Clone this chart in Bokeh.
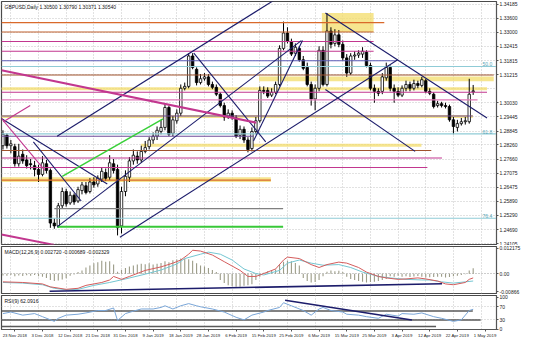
from bokeh.plotting import figure
from bokeh.layouts import column
from bokeh.models import (FixedTicker, Label, Range1d, ColumnDataSource,
                          NumeralTickFormatter, CustomJSTickFormatter)
from bokeh.embed import file_html
from bokeh.resources import INLINE
from bokeh.core.properties import value

# ---------------- data ----------------
bar_open = [1.2823, 1.2867, 1.2823, 1.2819, 1.2747, 1.2787, 1.2763, 1.2747, 1.2739, 1.2723,
            1.2702, 1.2747, 1.2719, 1.2497, 1.2485, 1.2570, 1.2630, 1.2582, 1.2614, 1.2590,
            1.2634, 1.2654, 1.2630, 1.2670, 1.2662, 1.2682, 1.2710, 1.2690, 1.2747, 1.2723,
            1.2485, 1.2630, 1.2690, 1.2759, 1.2779, 1.2763, 1.2799, 1.2819, 1.2847, 1.2863,
            1.2883, 1.2900, 1.2984, 1.2875, 1.2928, 1.2960, 1.3065, 1.3073, 1.3201, 1.3145,
            1.3089, 1.3105, 1.3113, 1.3081, 1.3069, 1.3040, 1.2992, 1.2948, 1.2960, 1.2940,
            1.2867, 1.2892, 1.2847, 1.2811, 1.2883, 1.2928, 1.3056, 1.3056, 1.3036, 1.3048,
            1.3081, 1.3233, 1.3298, 1.3262, 1.3213, 1.3233, 1.3185, 1.3153, 1.3081, 1.3020,
            1.3065, 1.3225, 1.3081, 1.3306, 1.3254, 1.3290, 1.3250, 1.3193, 1.3129, 1.3201,
            1.3205, 1.3209, 1.3217, 1.3161, 1.3065, 1.3052, 1.3052, 1.3109, 1.3153, 1.3065,
            1.3052, 1.3036, 1.3065, 1.3081, 1.3065, 1.3085, 1.3077, 1.3097, 1.3052, 1.3040,
            1.2992, 1.3000, 1.2992, 1.2988, 1.2932, 1.2900, 1.2916, 1.2924, 1.2924, 1.3050]
bar_high = [1.2888, 1.2875, 1.2847, 1.2831, 1.2831, 1.2807, 1.2783, 1.2767, 1.2759, 1.2743,
            1.2779, 1.2763, 1.2727, 1.2517, 1.2582, 1.2646, 1.2642, 1.2630, 1.2622, 1.2650,
            1.2670, 1.2670, 1.2686, 1.2690, 1.2698, 1.2731, 1.2727, 1.2783, 1.2767, 1.2743,
            1.2650, 1.2719, 1.2775, 1.2807, 1.2799, 1.2823, 1.2843, 1.2859, 1.2879, 1.2904,
            1.2932, 1.3000, 1.2992, 1.2948, 1.2976, 1.3081, 1.3089, 1.3213, 1.3213, 1.3153,
            1.3125, 1.3129, 1.3125, 1.3093, 1.3081, 1.3048, 1.3004, 1.2976, 1.2972, 1.2952,
            1.2908, 1.2904, 1.2859, 1.2900, 1.2944, 1.3073, 1.3073, 1.3069, 1.3065, 1.3093,
            1.3246, 1.3346, 1.3322, 1.3274, 1.3254, 1.3242, 1.3201, 1.3173, 1.3093, 1.3081,
            1.3242, 1.3242, 1.3382, 1.3322, 1.3314, 1.3310, 1.3266, 1.3209, 1.3213, 1.3221,
            1.3225, 1.3238, 1.3225, 1.3173, 1.3081, 1.3065, 1.3129, 1.3173, 1.3161, 1.3081,
            1.3069, 1.3077, 1.3097, 1.3093, 1.3101, 1.3097, 1.3113, 1.3105, 1.3065, 1.3048,
            1.3012, 1.3008, 1.3004, 1.2996, 1.2944, 1.2932, 1.2940, 1.2944, 1.3105, 1.3079]
bar_low = [1.2807, 1.2811, 1.2791, 1.2735, 1.2735, 1.2747, 1.2727, 1.2723, 1.2694, 1.2670,
           1.2694, 1.2706, 1.2477, 1.2473, 1.2477, 1.2558, 1.2566, 1.2574, 1.2574, 1.2582,
           1.2618, 1.2618, 1.2622, 1.2646, 1.2650, 1.2670, 1.2674, 1.2678, 1.2706, 1.2445,
           1.2453, 1.2610, 1.2670, 1.2743, 1.2747, 1.2751, 1.2791, 1.2807, 1.2831, 1.2847,
           1.2871, 1.2888, 1.2863, 1.2863, 1.2916, 1.2948, 1.3056, 1.3065, 1.3145, 1.3077,
           1.3081, 1.3097, 1.3073, 1.3061, 1.3032, 1.2984, 1.2928, 1.2936, 1.2932, 1.2855,
           1.2851, 1.2835, 1.2795, 1.2799, 1.2871, 1.2920, 1.3040, 1.3024, 1.3028, 1.3040,
           1.3073, 1.3225, 1.3254, 1.3201, 1.3201, 1.3177, 1.3141, 1.3073, 1.2992, 1.2972,
           1.3052, 1.3073, 1.3073, 1.3233, 1.3242, 1.3238, 1.3181, 1.3113, 1.3121, 1.3185,
           1.3193, 1.3193, 1.3153, 1.3056, 1.3004, 1.3032, 1.3040, 1.3097, 1.3052, 1.3004,
           1.3028, 1.3028, 1.3052, 1.3052, 1.3056, 1.3065, 1.3069, 1.3044, 1.3036, 1.2980,
           1.2984, 1.2984, 1.2980, 1.2924, 1.2871, 1.2883, 1.2908, 1.2912, 1.2916, 1.30371]
bar_close = [1.2871, 1.2823, 1.2831, 1.2747, 1.2779, 1.2759, 1.2739, 1.2743, 1.2723, 1.2702,
             1.2751, 1.2719, 1.2497, 1.2485, 1.2570, 1.2630, 1.2578, 1.2614, 1.2586, 1.2638,
             1.2658, 1.2626, 1.2670, 1.2658, 1.2686, 1.2715, 1.2686, 1.2751, 1.2719, 1.2477,
             1.2630, 1.2694, 1.2759, 1.2783, 1.2763, 1.2799, 1.2815, 1.2847, 1.2863, 1.2888,
             1.2900, 1.2984, 1.2871, 1.2932, 1.2960, 1.3065, 1.3073, 1.3201, 1.3153, 1.3089,
             1.3105, 1.3113, 1.3081, 1.3069, 1.3040, 1.2992, 1.2944, 1.2960, 1.2944, 1.2863,
             1.2892, 1.2847, 1.2807, 1.2883, 1.2928, 1.3056, 1.3052, 1.3032, 1.3048, 1.3081,
             1.3233, 1.3298, 1.3262, 1.3209, 1.3238, 1.3185, 1.3149, 1.3081, 1.3020, 1.3065,
             1.3225, 1.3081, 1.3306, 1.3250, 1.3290, 1.3250, 1.3193, 1.3129, 1.3201, 1.3205,
             1.3213, 1.3221, 1.3161, 1.3065, 1.3052, 1.3044, 1.3113, 1.3153, 1.3065, 1.3052,
             1.3036, 1.3065, 1.3081, 1.3065, 1.3085, 1.3077, 1.3101, 1.3052, 1.3044, 1.2988,
             1.3000, 1.2992, 1.2988, 1.2932, 1.2904, 1.2916, 1.2924, 1.2928, 1.3040, 1.3054]

title_text = "GBPUSD,Daily  1.30500 1.30790 1.30371 1.30540"
last_price = 1.30540
last_price_text = "1.30540"
price_ticks = [1.34185, 1.33600, 1.33000, 1.32415, 1.31815, 1.31215, 1.30030, 1.29445,
               1.28845, 1.28260, 1.27660, 1.27075, 1.26475, 1.25890, 1.25290, 1.24690, 1.24105]

date_labels = ["23 Nov 2018", "3 Dec 2018", "12 Dec 2018", "21 Dec 2018", "31 Dec 2018",
               "9 Jan 2019", "18 Jan 2019", "28 Jan 2019", "6 Feb 2019", "15 Feb 2019",
               "25 Feb 2019", "6 Mar 2019", "15 Mar 2019", "25 Mar 2019", "3 Apr 2019",
               "12 Apr 2019", "22 Apr 2019", "1 May 2019"]
date_bars = [2, 9, 16, 23, 30, 37, 44, 51, 58, 65, 72, 79, 86, 93, 100, 107, 114, 121]

# horizontal levels drawn on the chart
level_price = [1.3342, 1.3302, 1.3262, 1.3221, 1.3181, 1.3121, 1.3048, 1.3016, 1.2948,
               1.2863, 1.2803, 1.2771, 1.2731, 1.2678, 1.2558, 1.2481]
level_from = [-0.4, -0.4, -0.4, -0.4, -0.4, -0.4, -0.4, -0.4, -0.4,
              -0.4, -0.4, -0.4, -0.4, -0.4, 13.0, 13.7]
level_to = [96.5, 93.8, 93.8, 93.8, 99.4, 124.2, 122.5, 120.1, 118.9,
            63.4, 108.4, 111.1, 107.4, 67.8, 70.9, 70.9]
level_kind = ["orange", "brown", "magenta", "magenta", "slate", "sienna", "magenta", "pink",
              "purple", "purple", "sienna", "magenta", "magenta", "orange", "grey", "green"]

fib_levels = [1.3157, 1.2873, 1.2517]
fib_names = ["50.0", "61.8", "76.4"]

band_bottom = [1.3302, 1.3095, 1.3057, 1.2940, 1.2819, 1.2670]
band_top = [1.3382, 1.3115, 1.3069, 1.2952, 1.2831, 1.2690]
band_from = [80.7, 64.8, -0.4, -0.4, 34.9, -0.4]
band_to = [93.8, 124.2, 122.5, 118.9, 105.9, 67.8]

trend_x0 = [13.7, 13.7, 29.6, 63.4, 48.3, 81.6, 81.6, -0.4, 7.7]
trend_y0 = [1.2863, 1.2481, 1.2437, 1.2843, 1.3213, 1.3382, 1.3060, 1.2938, 1.2839]
trend_x1 = [68.5, 75.5, 99.9, 75.8, 66.5, 122.5, 104.3, 26.4, 19.8]
trend_y1 = [1.3435, 1.3266, 1.3185, 1.3266, 1.2839, 1.2940, 1.2799, 1.2662, 1.2590]

magenta_x0 = [-0.4, -0.4, 0.1, -0.4]
magenta_y0 = [1.3141, 1.2938, 1.2924, 1.2449]
magenta_x1 = [64.1, 10.6, 6.9, 13.0]
magenta_y1 = [1.2920, 1.2719, 1.2992, 1.2405]

green_x0 = [15.0]
green_y0 = [1.2694]
green_x1 = [40.5]
green_y1 = [1.2936]

macd_title = "MACD(12,26,9) 0.002720 -0.000689 -0.002329"
macd_ticks = [0.012175, 0.0, -0.00866]
macd_hist = [-0.0008, -0.0010, -0.0006, -0.0012, -0.0009, -0.0011, -0.0007, -0.0010, -0.0006, -0.0012,
             -0.0015, -0.0020, -0.0030, -0.0035, -0.0033, -0.0028, -0.0022, -0.0010, -0.0004, 0.0008,
             0.0015, 0.0030, 0.0040, 0.0050, 0.0055, 0.0062, 0.0058, 0.0060, 0.0045, 0.0010,
             0.0018, 0.0028, 0.0035, 0.0040, 0.0045, 0.0048, 0.0046, 0.0050, 0.0044, 0.0048,
             0.0052, 0.0060, 0.0055, 0.0065, 0.0068, 0.0073, 0.0072, 0.0070, 0.0062, 0.0050,
             0.0040, 0.0035, 0.0028, 0.0018, 0.0008, -0.0030, -0.0045, -0.0055, -0.0060, -0.0063,
             -0.0062, -0.0058, -0.0055, -0.0050, -0.0030, -0.0015, 0.0005, 0.0012, 0.0018, 0.0020,
             0.0045, 0.0058, 0.0062, 0.0060, 0.0052, 0.0040, -0.0020, -0.0035, -0.0042, -0.0040,
             -0.0030, -0.0012, 0.0010, 0.0015, 0.0012, 0.0014, 0.0008, -0.0015, -0.0025, -0.0030,
             -0.0035, -0.0038, -0.0042, -0.0040, -0.0038, -0.0035, -0.0030, -0.0025, -0.0012, -0.0015,
             -0.0010, -0.0014, -0.0012, -0.0016, -0.0013, -0.0011, -0.0015, -0.0018, -0.0017, -0.0016,
             -0.0014, -0.0015, -0.0018, -0.0016, -0.0012, -0.0010, -0.0006, -0.0002, 0.0015, 0.0027]
macd_main_x = [0, 5, 10, 12, 16, 19, 21, 25, 27, 28, 30, 32, 36, 40, 43, 45, 47, 48, 50, 53, 56, 60,
               62, 64, 66, 69, 71, 72, 75, 78, 80, 82, 85, 87, 90, 92, 95, 97, 100, 102, 105, 107,
               110, 112, 114, 117, 118, 119]
macd_main = [-0.0039, -0.0042, -0.0049, -0.0063, -0.0075, -0.0070, -0.0056, -0.0042, -0.0030, -0.0013,
             -0.0027, -0.0013, 0.0016, 0.0033, 0.0051, 0.0066, 0.0094, 0.0113, 0.0109, 0.0090,
             0.0058, 0.0016, -0.0013, -0.0013, 0.0001, 0.0023, 0.0066, 0.0080, 0.0073, 0.0044,
             0.0030, 0.0044, 0.0056, 0.0051, 0.0030, 0.0008, -0.0013, -0.0020, -0.0027, -0.0025,
             -0.0020, -0.0025, -0.0035, -0.0049, -0.0053, -0.0042, -0.0027, -0.0020]
macd_signal_x = [0, 5, 10, 13, 16, 19, 23, 27, 31, 36, 40, 44, 46, 50, 52, 55, 58, 61, 64, 66,
                 70, 72, 75, 78, 81, 85, 88, 91, 95, 98, 102, 106, 108, 111, 114, 117, 119]
macd_signal = [-0.0042, -0.0045, -0.0053, -0.0070, -0.0077, -0.0075, -0.0056, -0.0042, -0.0025, -0.0002,
               0.0018, 0.0047, 0.0073, 0.0094, 0.0104, 0.0094, 0.0066, 0.0023, 0.0001, -0.0006,
               0.0016, 0.0051, 0.0066, 0.0051, 0.0041, 0.0044, 0.0030, 0.0008, -0.0013, -0.0020,
               -0.0027, -0.0030, -0.0030, -0.0039, -0.0045, -0.0039, -0.0035]
macd_trend_x = [11.8, 111.1]
macd_trend_y = [-0.00845, -0.00478]

rsi_title = "RSI(9) 62.0916"
rsi_ticks = [100, 70, 30, 0]
rsi_x = [0, 2, 5, 8, 10, 13, 14, 16, 19, 21, 24, 26, 28, 29, 31, 33, 35, 38, 40, 41, 43, 45, 47, 49,
         50, 53, 56, 59, 61, 63, 66, 67, 70, 71, 73, 76, 78, 80, 81, 83, 86, 87, 90, 92, 95, 97,
         100, 101, 104, 106, 109, 111, 114, 116, 118, 119]
rsi_v = [48.6, 53.4, 43.8, 48.6, 39.0, 24.3, 33.9, 43.8, 46.6, 50.6, 58.2, 58.2, 66.1, 27.1, 48.6,
         56.2, 63.0, 63.0, 67.8, 72.9, 63.0, 72.9, 79.7, 72.9, 69.8, 63.0, 53.4, 37.0, 29.1, 43.8,
         53.4, 58.2, 67.8, 82.5, 72.9, 58.2, 43.8, 63.0, 67.8, 58.2, 53.4, 46.6, 43.8, 39.0, 33.9,
         46.6, 40.7, 48.6, 46.6, 50.6, 39.0, 33.9, 24.3, 29.1, 58.2, 62.1]
rsi_trend_x = [71.4, 103.5]
rsi_trend_y = [90.0, 28.8]
rsi_level = [57.0, 28.8, 8.2]
rsi_level_to = [118.9, 120.9, 109.6]

# ---------------- styles ----------------
FONT = "Liberation Sans"
FS = "5px"
DATE_FS = "4.3px"
NAVY = "#1c1c6b"
KIND_COLOR = {"orange": "#d9692a", "brown": "#c0602e", "magenta": "#c2378f", "slate": "#5c5cb8",
              "sienna": "#a0522d", "pink": "#df78b7", "purple": "#6e4a9a", "grey": "#808080",
              "green": "#38c838"}
KIND_WIDTH = {"green": 2.0, "orange": 1.3}
GRID = "#c4c4c4"

FW = 495
x_range = Range1d(-0.37, 124.9)


def style_axis(ax):
    ax.major_label_text_font_size = FS
    ax.major_label_text_font = FONT
    ax.major_label_text_color = "#222222"
    ax.axis_line_color = "#555555"
    ax.major_tick_line_color = "#555555"
    ax.major_tick_out = 2
    ax.major_tick_in = 0
    ax.minor_tick_line_color = None
    ax.major_label_standoff = 1


def base_fig(fh, yr, bottom=1):
    f = figure(frame_width=FW, frame_height=fh, x_range=x_range, y_range=yr,
               y_axis_location="right", output_backend="svg", toolbar_location=None,
               min_border_left=1, min_border_right=24, min_border_top=1,
               min_border_bottom=bottom)
    f.background_fill_color = "white"
    f.border_fill_color = "white"
    f.outline_line_color = "#4a4a4a"
    f.outline_line_width = 1.2
    f.xgrid.ticker = FixedTicker(ticks=[b for b in date_bars])
    f.xgrid.grid_line_color = GRID
    f.xgrid.grid_line_dash = "1 2"
    style_axis(f.yaxis[0])
    return f


# ---------------- main price panel ----------------
p = base_fig(243, Range1d(1.24067, 1.34306))
p.xaxis.visible = False
p.yaxis.ticker = FixedTicker(ticks=price_ticks)
p.yaxis.formatter = NumeralTickFormatter(format="0.00000")
p.ygrid.ticker = FixedTicker(ticks=price_ticks + [1.30630])
p.ygrid.grid_line_color = GRID
p.ygrid.grid_line_dash = "1 2"

# yellow zones
p.quad(left=band_from, right=band_to, bottom=band_bottom, top=band_top,
       fill_color="#f3dc6a", fill_alpha=0.75, line_color=None)

# candles
idx = list(range(len(bar_close)))
bull = [i for i in idx if bar_close[i] >= bar_open[i]]
bear = [i for i in idx if bar_close[i] < bar_open[i]]
p.segment(x0=idx, y0=bar_high, x1=idx, y1=bar_low, line_color="black", line_width=1)
p.vbar(x=[i for i in bull], bottom=[bar_open[i] for i in bull], top=[bar_close[i] for i in bull],
       width=0.62, fill_color="white", line_color="black", line_width=0.8)
p.vbar(x=[i for i in bear], bottom=[bar_close[i] for i in bear], top=[bar_open[i] for i in bear],
       width=0.62, fill_color="black", line_color="black", line_width=0.8)

# fibo levels
p.segment(x0=[-0.4] * len(fib_levels), y0=fib_levels, x1=[124.9] * len(fib_levels), y1=fib_levels,
          line_color="#8fcbd6", line_width=1.1)
p.text(x=[122.6] * len(fib_levels), y=fib_levels, text=fib_names, text_font=value(FONT),
       text_font_size=FS, text_color="#5aa6b6", text_align="center", text_baseline="bottom")

# horizontal levels
p.segment(x0=level_from, y0=level_price, x1=level_to, y1=level_price,
          line_color=[KIND_COLOR[k] for k in level_kind],
          line_width=[KIND_WIDTH.get(k, 1.1) for k in level_kind])

# trend lines
p.segment(x0=trend_x0, y0=trend_y0, x1=trend_x1, y1=trend_y1, line_color=NAVY, line_width=1.1)
p.segment(x0=magenta_x0, y0=magenta_y0, x1=magenta_x1, y1=magenta_y1,
          line_color="#c2378f", line_width=[2.0, 1.1, 1.1, 2.0])
p.segment(x0=green_x0, y0=green_y0, x1=green_x1, y1=green_y1, line_color="#38d038", line_width=1.5)

p.add_layout(Label(x=3, y=235, x_units="screen", y_units="screen", text=title_text,
                   text_font=FONT, text_font_size=FS, text_color="#111111"))
p.add_layout(Label(x=FW + 1, y=last_price, x_units="screen", y_units="data", text=last_price_text,
                   text_font=FONT, text_font_size=FS, text_color="white", text_baseline="middle",
                   background_fill_color="black", padding=1))

# ---------------- MACD panel ----------------
pm = base_fig(47, Range1d(-0.0095, 0.0131))
pm.xaxis.visible = False
pm.yaxis.ticker = FixedTicker(ticks=macd_ticks)
pm.yaxis.formatter = CustomJSTickFormatter(code="return tick == 0 ? '0.00' : tick.toString();")
pm.ygrid.ticker = FixedTicker(ticks=[0.0])
pm.ygrid.grid_line_color = "#9a9a9a"
pm.ygrid.grid_line_dash = "1 2"
pm.vbar(x=idx, top=macd_hist, bottom=0, width=0.28, fill_color="#9c9c88", line_color=None)
pm.line(macd_signal_x, macd_signal, line_color="#74c6d2", line_width=1)
pm.line(macd_main_x, macd_main, line_color="#d45c5c", line_width=1)
pm.line(macd_trend_x, macd_trend_y, line_color=NAVY, line_width=1.6)
pm.add_layout(Label(x=3, y=39, x_units="screen", y_units="screen", text=macd_title,
                    text_font=FONT, text_font_size=FS, text_color="#111111"))

# ---------------- RSI panel ----------------
pr = base_fig(34, Range1d(-1, 105), bottom=11)
pr.yaxis.ticker = FixedTicker(ticks=rsi_ticks)
pr.ygrid.ticker = FixedTicker(ticks=[70, 30])
pr.ygrid.grid_line_color = GRID
pr.ygrid.grid_line_dash = "1 2"
style_axis(pr.xaxis[0])
pr.xaxis.major_label_text_font_size = DATE_FS
pr.xaxis.ticker = FixedTicker(ticks=[b + 1 for b in date_bars])
pr.xaxis.major_label_overrides = {b + 1: s for b, s in zip(date_bars, date_labels)}
pr.segment(x0=[-0.4] * len(rsi_level), y0=rsi_level, x1=rsi_level_to, y1=rsi_level,
           line_color="#595959", line_width=1.5)
pr.line(rsi_x, rsi_v, line_color="#7aa6d8", line_width=1)
pr.line(rsi_trend_x, rsi_trend_y, line_color=NAVY, line_width=1.6)
pr.add_layout(Label(x=3, y=26, x_units="screen", y_units="screen", text=rsi_title,
                    text_font=FONT, text_font_size=FS, text_color="#111111"))

layout = column(p, pm, pr, spacing=0)
open("out.html", "w").write(file_html(layout, INLINE))
